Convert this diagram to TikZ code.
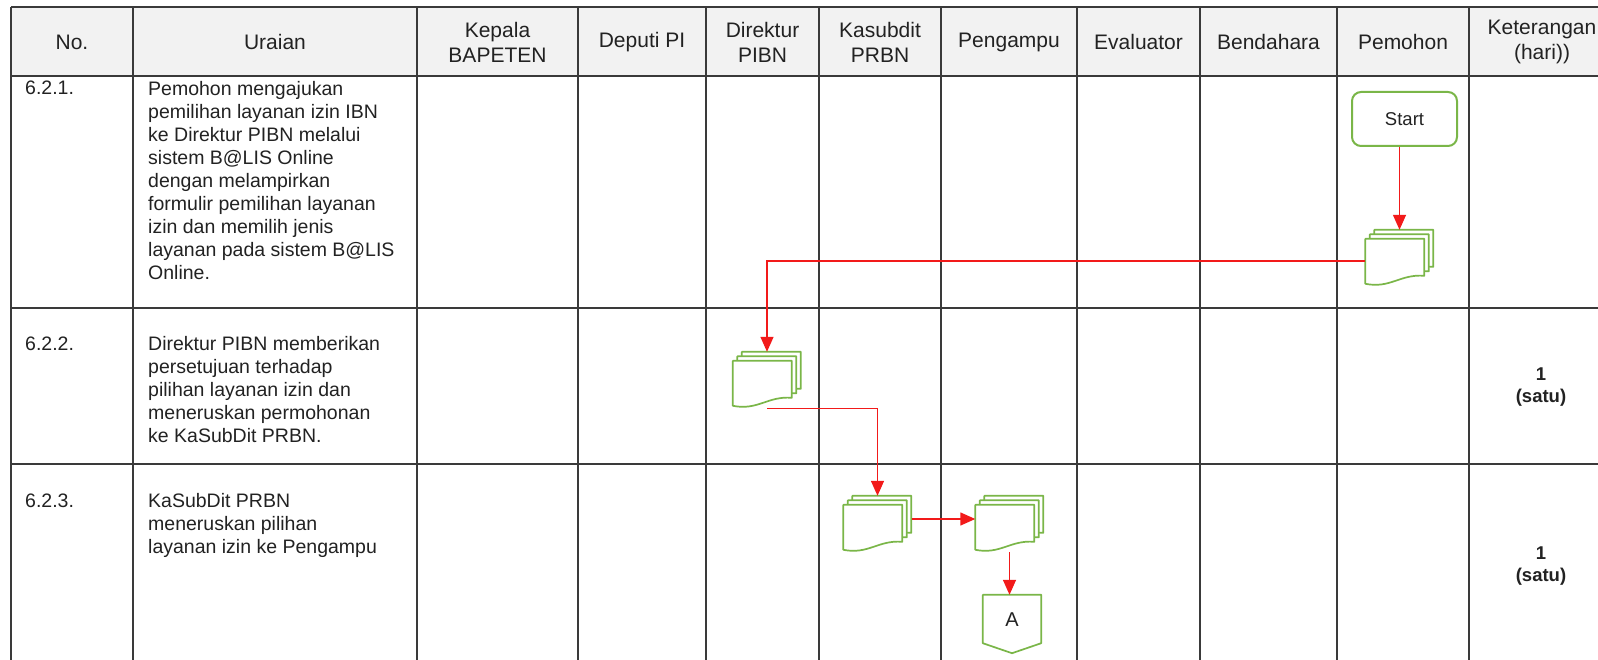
\documentclass[tikz,border=0pt]{standalone}
\usepackage{fontspec}
\setmainfont{Liberation Sans}
\usetikzlibrary{arrows.meta,calc}
\definecolor{gridc}{HTML}{3A3A3A}
\definecolor{hdr}{HTML}{F2F2F2}
\definecolor{grn}{HTML}{7AB648}
\definecolor{arr}{HTML}{F21A1A}
\definecolor{txt}{HTML}{222222}
\tikzset{
  gridline/.style={draw=gridc, line width=1.5pt},
  hdrtxt/.style={font=\fontsize{21}{25}\selectfont, text=txt, align=center, inner sep=0pt},
  bodytxt/.style={font=\fontsize{19.5}{23}\selectfont, text=txt, align=left, inner sep=0pt},
  kettxt/.style={font=\fontsize{18.5}{22}\selectfont\bfseries, text=txt, align=center, inner sep=0pt},
  docline/.style={draw=grn, fill=white, line width=1.7pt, line join=round},
  startbox/.style={draw=grn, fill=white, line width=2pt, rounded corners=9pt, minimum width=105pt, minimum height=54pt, inner sep=0pt, font=\fontsize{18.5}{22}\selectfont, text=txt},
  flow/.style={draw=arr, line width=1.4pt, -{Triangle[length=15pt,width=13pt]}}
}
\newcommand\docstack[2]{%
  \node[inner sep=0pt, minimum width=68pt, minimum height=56pt] (#1) at (#2) {};
  \begin{scope}[shift={(#1.north west)}]
    \foreach \o in {0,4.5,9} {
      \filldraw[docline] ({9-\o},\o) -- ({68-\o},\o) -- ({68-\o},{\o+37})
        .. controls ({44-\o},{\o+35}) and ({34-\o},{\o+50}) .. ({9-\o},{\o+45}) -- cycle;
    }
  \end{scope}
}
\begin{document}
\begin{tikzpicture}[x=1pt, y=-1pt]
\useasboundingbox (0,0) rectangle (1598,660);
\fill[white] (0,0) rectangle (1598,660);
% header background
\fill[hdr] (11,7) rectangle (1598,76);
% grid
\foreach \yy in {7,76,308,464} { \draw[gridline] (11,\yy) -- (1598,\yy); }
\foreach \xx in {11,133,417,578,706,819,941,1077,1200,1337,1469} { \draw[gridline] (\xx,7) -- (\xx,660); }
% header texts
\node[hdrtxt] (h1) at (72,42) {No.};
\node[hdrtxt] (h2) at (275,42) {Uraian};
\node[hdrtxt] (h3) at (497.5,42) {Kepala\\BAPETEN};
\node[hdrtxt] (h4) at (642,42) {Deputi PI};
\node[hdrtxt] (h5) at (762.5,42) {Direktur\\PIBN};
\node[hdrtxt] (h6) at (880,42) {Kasubdit\\PRBN};
\node[hdrtxt] (h7) at (1009,42) {Pengampu};
\node[hdrtxt] (h8) at (1138.5,42) {Evaluator};
\node[hdrtxt] (h9) at (1268.5,42) {Bendahara};
\node[hdrtxt] (h10) at (1403,42) {Pemohon};
\node[hdrtxt] (h11) at (1542,42) {Keterangan\\(hari))};
% numbers
\node[bodytxt, anchor=base west] (n1) at (25,95) {6.2.1.};
\node[bodytxt, anchor=base west] (n2) at (25,350) {6.2.2.};
\node[bodytxt, anchor=base west] (n3) at (25,507) {6.2.3.};
% descriptions
\node[bodytxt, anchor=north west] (t1) at (148,81) {Pemohon mengajukan\\pemilihan layanan izin IBN\\ke Direktur PIBN melalui\\sistem B@LIS Online\\dengan melampirkan\\formulir pemilihan layanan\\izin dan memilih jenis\\layanan pada sistem B@LIS\\Online.};
\node[bodytxt, anchor=north west] (t2) at (148,336) {Direktur PIBN memberikan\\persetujuan terhadap\\pilihan layanan izin dan\\meneruskan permohonan\\ke KaSubDit PRBN.};
\node[bodytxt, anchor=north west] (t3) at (148,493) {KaSubDit PRBN\\meneruskan pilihan\\layanan izin ke Pengampu};
% keterangan
\node[kettxt] (k2) at (1541,387) {1\\(satu)};
\node[kettxt] (k3) at (1541,566) {1\\(satu)};
% flow shapes
\node[startbox] (start) at (1404.5,119) {Start};
\docstack{p1}{1399.5,258}
\docstack{d2}{767,380}
\docstack{d3}{877.5,524}
\docstack{d4}{1009.5,524}
\node[inner sep=0pt, minimum width=58pt, minimum height=50pt] (A) at (1012,620) {};
\filldraw[docline] (A.north west) -- (A.north east) -- ($(A.south east)+(0,-2)$) -- ($(A.south)+(0,8)$) -- ($(A.south west)+(0,-2)$) -- cycle;
\node[font=\fontsize{20}{24}\selectfont, text=txt, inner sep=0pt] (Alab) at (A.center) {A};
% connectors
\draw[flow] (start.south -| p1.north) -- (p1.north);
\draw[flow] ([yshift=-3pt]p1.west) -| (d2.north);
\draw[flow] (d2.south) -| (d3.north);
\draw[flow] ([yshift=5pt]d3.east) -- ([yshift=5pt]d4.west);
\draw[flow] (d4.south) -- (d4.south |- A.north);
\end{tikzpicture}
\end{document}
